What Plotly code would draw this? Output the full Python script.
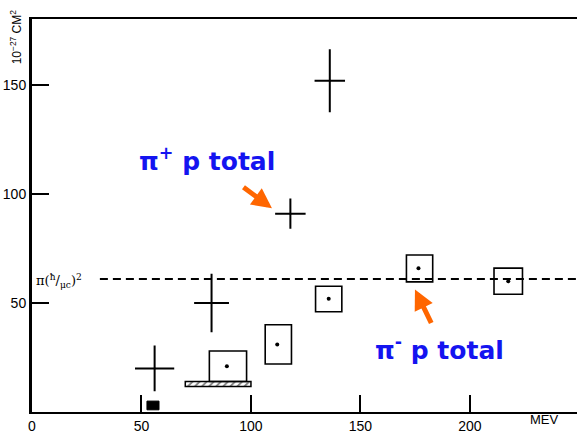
import plotly.graph_objects as go

# pi+ p total cross sections (crosses): energy, sigma and half-widths
pip_energy = [56, 82, 118, 136]
pip_sigma = [20, 50, 91, 152]
pip_denergy = [8.5, 7.5, 6.5, 6.5]
pip_dsigma = [10, 13, 6.5, 14]

# pi- p total cross sections (boxes): centre dot and box extents
pim_energy = [89, 112, 135.5, 176.5, 217.5]
pim_sigma = [21, 31, 52, 66, 60]
pim_e_lo = [81, 106.5, 129.5, 171, 211]
pim_e_hi = [98, 118.5, 141.5, 183, 224]
pim_s_lo = [14, 22, 46, 59.7, 54]
pim_s_hi = [28, 40, 57.7, 72, 66]

# hatched strip and small solid block near the axis
strip_e = [70, 100]
strip_s = [11.7, 14]
block_e = [52.5, 58]
block_s = [1, 5]

# geometric cross section pi (hbar / mu c)^2
geo_level = 61
geo_start = 31

x_ticks = [0, 50, 100, 150, 200]
y_ticks = [50, 100, 150]

fig = go.Figure()

# hatched strip as a patterned bar
fig.add_trace(go.Bar(
    x=[(strip_e[0] + strip_e[1]) / 2], y=[strip_s[1] - strip_s[0]], base=[strip_s[0]],
    width=[strip_e[1] - strip_e[0]],
    marker=dict(color="white", line=dict(color="black", width=1.5),
                pattern=dict(shape="/", fgcolor="black", bgcolor="white", size=5, solidity=0.35)),
    showlegend=False, hoverinfo="skip",
))

# pi+ p crosses
fig.add_trace(go.Scatter(
    x=pip_energy, y=pip_sigma, mode="markers",
    marker=dict(size=2, color="black"),
    error_x=dict(type="data", array=pip_denergy, color="black", thickness=2, width=1),
    error_y=dict(type="data", array=pip_dsigma, color="black", thickness=2, width=1),
    showlegend=False,
))

# pi- p centre dots
fig.add_trace(go.Scatter(
    x=pim_energy, y=pim_sigma, mode="markers",
    marker=dict(size=4, color="black"), showlegend=False,
))

shapes = []
for x0, x1, y0, y1 in zip(pim_e_lo, pim_e_hi, pim_s_lo, pim_s_hi):
    shapes.append(dict(type="rect", xref="x", yref="y", x0=x0, x1=x1, y0=y0, y1=y1,
                       line=dict(color="black", width=1.6), fillcolor="rgba(0,0,0,0)"))
shapes.append(dict(type="rect", xref="x", yref="y", x0=block_e[0], x1=block_e[1],
                   y0=block_s[0], y1=block_s[1], line=dict(color="black", width=1),
                   fillcolor="black"))
shapes.append(dict(type="line", xref="x", yref="y", x0=geo_start, x1=260,
                   y0=geo_level, y1=geo_level,
                   line=dict(color="black", width=2, dash="8px,5px")))

wide_font = dict(family="DejaVu Sans", size=25, color="#1414F0")

annotations = [
    dict(text="10<sup>−27</sup> CM<sup>2</sup>", xref="paper", yref="paper",
         x=-0.03, y=0.955, xanchor="center", yanchor="middle", textangle=-90,
         showarrow=False, font=dict(family="Liberation Sans", size=12, color="black")),
    dict(text="MEV", xref="x", yref="paper", x=234, y=-0.02, yanchor="middle",
         showarrow=False, font=dict(family="Liberation Sans", size=13, color="black")),
    dict(text="π(<sup>ħ</sup>/<sub>μc</sub>)<sup>2</sup>", xref="x", yref="y",
         x=12.3, y=59.9, showarrow=False,
         font=dict(family="DejaVu Serif", size=13, color="black")),
    dict(text="<b>π<sup>+</sup> p total</b>", xref="x", yref="y", x=80, y=115.8,
         showarrow=False, font=wide_font),
    dict(text="<b>π<sup>-</sup> p total</b>", xref="x", yref="y", x=186, y=29,
         showarrow=False, font=wide_font),
    dict(text="", xref="x", yref="y", x=109.6, y=93.5, ax=-30, ay=-22,
         showarrow=True, arrowhead=2, arrowsize=0.8, arrowwidth=5, arrowcolor="#FF6600"),
    dict(text="", xref="x", yref="y", x=174.9, y=56.2, ax=17, ay=35,
         showarrow=True, arrowhead=2, arrowsize=0.8, arrowwidth=5, arrowcolor="#FF6600"),
]

fig.update_layout(
    width=577, height=434,
    margin=dict(l=32, r=0, t=19, b=18),
    paper_bgcolor="white", plot_bgcolor="white",
    shapes=shapes, annotations=annotations,
    showlegend=False,
    xaxis=dict(range=[0, 248.9], showgrid=False, zeroline=False,
               showline=True, linecolor="black", linewidth=2, mirror=True,
               ticks="inside", ticklen=17, tickwidth=1.5, tickcolor="black",
               tickvals=x_ticks, ticktext=[str(v) for v in x_ticks],
               tickfont=dict(family="Liberation Sans", size=14, color="black")),
    yaxis=dict(range=[0, 180.3], showgrid=False, zeroline=False,
               showline=True, linecolor="black", linewidth=3,
               ticks="inside", ticklen=17, tickwidth=2.2, tickcolor="black",
               tickvals=y_ticks, ticktext=[str(v) for v in y_ticks],
               tickfont=dict(family="Liberation Sans", size=14, color="black")),
)

fig.write_html("out.html")
